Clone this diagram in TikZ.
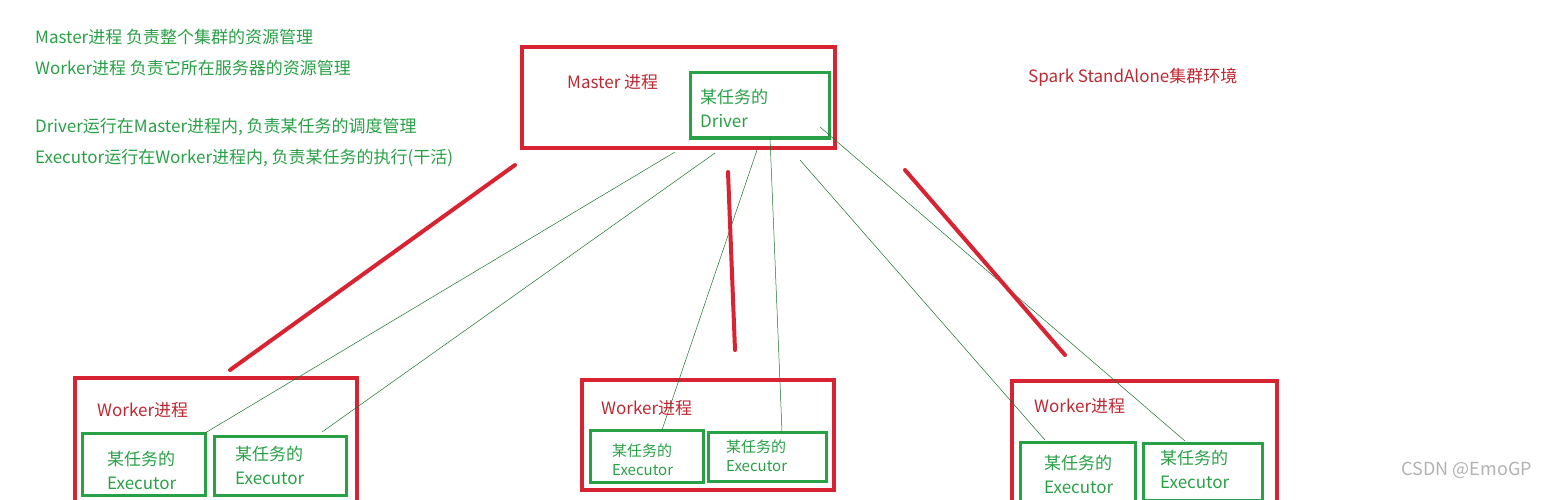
\documentclass[tikz,border=0pt]{standalone}
\usepackage{fontspec}
\setmainfont{Noto Sans CJK SC}
\definecolor{rd}{RGB}{215,35,50}
\definecolor{gn}{RGB}{40,160,70}
\definecolor{tx}{RGB}{190,40,50}
\begin{document}
\begin{tikzpicture}[x=1pt,y=-1pt,
 rbox/.style={draw=rd,line width=3.5pt},
 gbox/.style={draw=gn,line width=3pt},
 thin/.style={draw=gn!70!black,line width=0.5pt},
 thick/.style={draw=rd,line width=4pt,line cap=round},
 gt/.style={text=gn,font=\fontsize{17}{20}\selectfont,anchor=west,inner sep=0},
 rt/.style={text=tx,font=\fontsize{17}{20}\selectfont,anchor=west,inner sep=0}]
\useasboundingbox (0,0) rectangle (1541,500);
\node[gt] (t1) at (35,37) {Master进程 负责整个集群的资源管理};
\node[gt] (t2) at (35,68) {Worker进程 负责它所在服务器的资源管理};
\node[gt] (t3) at (35,127) {Driver运行在Master进程内, 负责某任务的调度管理};
\node[gt] (t4) at (35,158) {Executor运行在Worker进程内, 负责某任务的执行(干活)};
\node[rt] (sp) at (1028,77) {Spark StandAlone集群环境};
% master
\draw[rbox] (522,47) rectangle (835,148);
\node[rt] (ml) at (567,82) {Master 进程};
\draw[gbox] (690,73) rectangle (829,138);
\node[gt,align=left] (drv) at (700,108) {某任务的\\[4pt]Driver};
% workers
\draw[rbox] (75,378) rectangle (357,505);
\node[rt] (w1) at (97,410) {Worker进程};
\draw[gbox] (82,433) rectangle (205,495);
\node[gt,align=left] (e1) at (107,470) {某任务的\\[4pt]Executor};
\draw[gbox] (214,436) rectangle (346,495);
\node[gt,align=left] (e2) at (235,465) {某任务的\\[4pt]Executor};
\draw[rbox] (582,380) rectangle (834,490);
\node[rt] (w2) at (601,408) {Worker进程};
\draw[gbox] (590,430) rectangle (703,482);
\node[gt,align=left,font=\fontsize{15}{16}\selectfont] (e3) at (612,460) {某任务的\\[3pt]Executor};
\draw[gbox] (708,432) rectangle (826,481);
\node[gt,align=left,font=\fontsize{15}{16}\selectfont] (e4) at (726,456) {某任务的\\[3pt]Executor};
\draw[rbox] (1012,381) rectangle (1277,505);
\node[rt] (w3) at (1034,406) {Worker进程};
\draw[gbox] (1020,442) rectangle (1135,502);
\node[gt,align=left] (e5) at (1044,474) {某任务的\\[4pt]Executor};
\draw[gbox] (1143,443) rectangle (1262,500);
\node[gt,align=left] (e6) at (1160,469) {某任务的\\[4pt]Executor};
% thin lines
\coordinate (a1) at (675,152); \coordinate (b1) at (205,433);
\coordinate (a2) at (715,153); \coordinate (b2) at (322,432);
\coordinate (a3) at (757,150); \coordinate (b3) at (662,430);
\coordinate (a4) at (770,138); \coordinate (b4) at (782,432);
\coordinate (a5) at (800,160); \coordinate (b5) at (1045,440);
\coordinate (a6) at (820,127); \coordinate (b6) at (1185,441);
\foreach \i in {1,...,6} \draw[thin] (a\i) -- (b\i);
% red strokes
\coordinate (r1a) at (515,165); \coordinate (r1b) at (230,370);
\coordinate (r2a) at (728,172); \coordinate (r2b) at (735,350);
\coordinate (r3a) at (905,170); \coordinate (r3b) at (1065,355);
\draw[thick] (r1a) -- (r1b);
\draw[thick] (r2a) -- (r2b);
\draw[thick] (r3a) -- (r3b);
\node[text=gray!60,font=\fontsize{18}{20}\selectfont,anchor=east,inner sep=0] (wm) at (1532,470) {CSDN @EmoGP};
\end{tikzpicture}
\end{document}
